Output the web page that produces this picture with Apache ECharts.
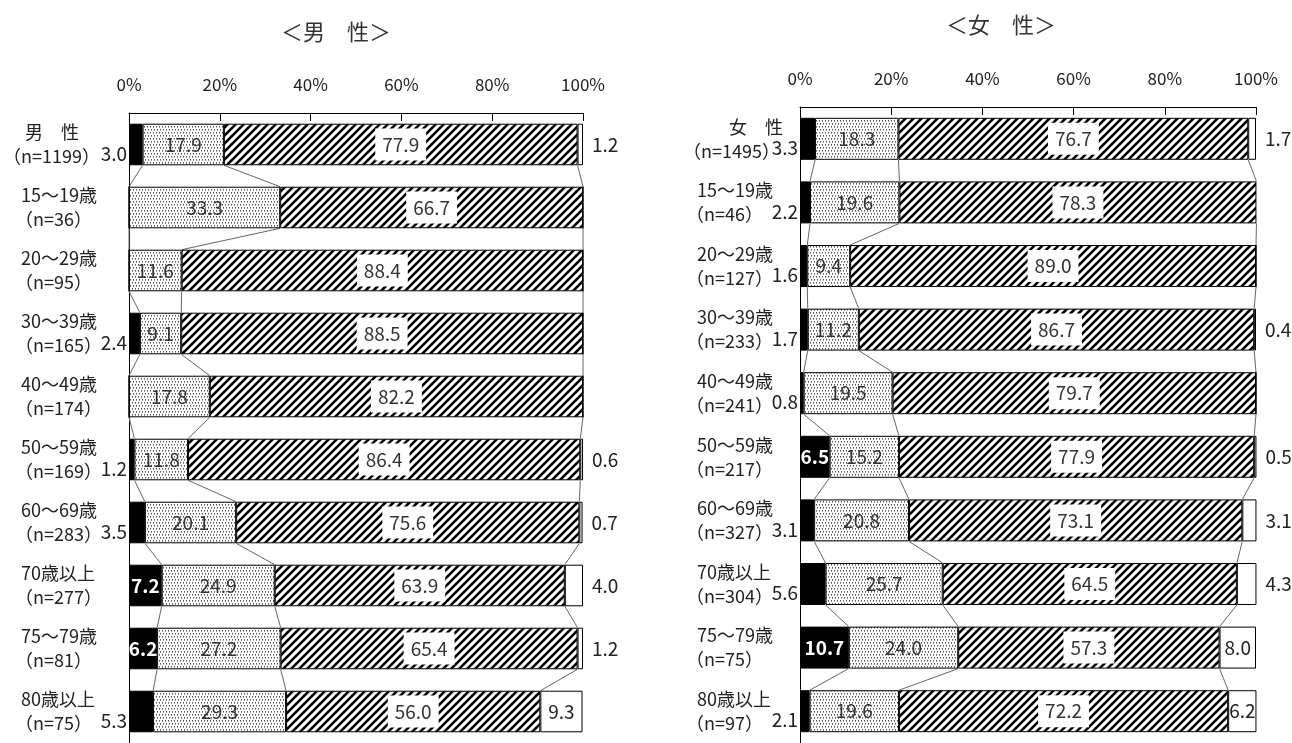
<!DOCTYPE html>
<html><head><meta charset="utf-8">
<script src="https://cdn.jsdelivr.net/npm/echarts@6/dist/echarts.min.js"></script>
<style>html,body{margin:0;padding:0;background:#fff}#c{width:1292px;height:743px}</style>
</head><body><div id="c"></div>
<script>
// ---- data ----
const maleGroups = ['男　性','15～19歳','20～29歳','30～39歳','40～49歳','50～59歳','60～69歳','70歳以上','75～79歳','80歳以上'];
const maleN = [1199,36,95,165,174,169,283,277,81,75];
const maleBlack = [3.0,0,0,2.4,0,1.2,3.5,7.2,6.2,5.3];
const maleDot   = [17.9,33.3,11.6,9.1,17.8,11.8,20.1,24.9,27.2,29.3];
const maleHatch = [77.9,66.7,88.4,88.5,82.2,86.4,75.6,63.9,65.4,56.0];
const maleWhite = [1.2,0,0,0,0,0.6,0.7,4.0,1.2,9.3];

const femaleGroups = ['女　性','15～19歳','20～29歳','30～39歳','40～49歳','50～59歳','60～69歳','70歳以上','75～79歳','80歳以上'];
const femaleN = [1495,46,127,233,241,217,327,304,75,97];
const femaleBlack = [3.3,2.2,1.6,1.7,0.8,6.5,3.1,5.6,10.7,2.1];
const femaleDot   = [18.3,19.6,9.4,11.2,19.5,15.2,20.8,25.7,24.0,19.6];
const femaleHatch = [76.7,78.3,89.0,86.7,79.7,77.9,73.1,64.5,57.3,72.2];
const femaleWhite = [1.7,0,0,0.4,0,0.5,3.1,4.3,8.0,6.2];

const xTicks = [0,20,40,60,80,100];
const titles = ['＜男　性＞','＜女　性＞'];

// ---- patterns ----
function dotPattern(){
  const s=6;const c=document.createElement('canvas');c.width=s;c.height=s;
  const g=c.getContext('2d');g.fillStyle='#fff';g.fillRect(0,0,s,s);
  g.fillStyle='#555';
  g.fillRect(0,0,1,1);g.fillRect(3,0,1,1);g.fillRect(1,3,1,1);g.fillRect(4,3,1,1);
  g.fillStyle='#999';
  g.fillRect(0,1,1,1);g.fillRect(3,1,1,1);g.fillRect(1,4,1,1);g.fillRect(4,4,1,1);
  return c;
}
function hatchPattern(){
  const s=8;const c=document.createElement('canvas');c.width=s;c.height=s;
  const g=c.getContext('2d');g.fillStyle='#fff';g.fillRect(0,0,s,s);
  g.strokeStyle='#000';g.lineWidth=2.6;g.lineCap='square';
  g.beginPath();
  for(const o of [-s,0,s]){g.moveTo(o,s);g.lineTo(o+s,0);}
  g.stroke();
  return c;
}
const DOT={image:dotPattern(),repeat:'repeat'};
const HATCH={image:hatchPattern(),repeat:'repeat'};
const FONT="'Noto Sans CJK JP', 'Noto Sans', sans-serif";
const BAND=0.66;
const LF=19;

function fmt(v){return v.toFixed(1);}

function buildSeries(idx, black, dot, hatch, white){
  const common={type:'bar',stack:'s'+idx,xAxisIndex:idx,yAxisIndex:idx,barCategoryGap:'34%',
    emphasis:{disabled:true},animation:false};
  const sBlack=Object.assign({},common,{name:'black',itemStyle:{color:'#000',borderColor:'#000',borderWidth:1},
    data:black.map(v=>({value:v,label:v>=6?
      {show:true,position:'inside',color:'#fff',fontWeight:'bold',fontSize:LF,fontFamily:FONT,formatter:()=>fmt(v)}:
      {show:v>0,position:'left',distance:2,offset:[0,9],color:'#222',fontSize:LF,fontFamily:FONT,formatter:()=>fmt(v)}}))});
  const sDot=Object.assign({},common,{name:'dot',itemStyle:{color:DOT,borderColor:'#000',borderWidth:1},
    data:dot.map(v=>({value:v,label:{show:v>0,position:'inside',color:'#333',fontSize:LF,fontFamily:FONT,formatter:()=>fmt(v)}}))});
  const sHatch=Object.assign({},common,{name:'hatch',itemStyle:{color:HATCH,borderColor:'#000',borderWidth:1},
    data:hatch.map(v=>({value:v,label:{show:v>0,position:'inside',color:'#333',fontSize:LF,fontFamily:FONT,
      backgroundColor:'#fff',padding:[7,7,6,7],formatter:()=>fmt(v)}}))});
  const sWhite=Object.assign({},common,{name:'white',itemStyle:{color:'#fff',borderColor:'#000',borderWidth:1},
    data:white.map(v=>({value:v,label:v>=6?
      {show:true,position:'inside',color:'#222',fontSize:LF,fontFamily:FONT,formatter:()=>fmt(v)}:
      {show:v>0,position:'right',distance:9,color:'#222',fontSize:LF,fontFamily:FONT,formatter:()=>fmt(v)}}))});
  // connectors between cumulative boundaries of neighbouring bars
  const segs=[black,dot,hatch];
  const conn=[];
  for(let i=0;i<black.length-1;i++){
    let a=0,b=0;
    for(let k=0;k<3;k++){a+=segs[k][i];b+=segs[k][i+1];conn.push([a,i,b]);}
  }
  const sConn={type:'custom',xAxisIndex:idx,yAxisIndex:idx,clip:false,z:1,silent:true,animation:false,
    data:conn,encode:{x:[0,2],y:1},
    renderItem:function(params,api){
      const p1=api.coord([api.value(0),api.value(1)]);
      const p2=api.coord([api.value(2),api.value(1)+1]);
      const h=api.size([0,1])[1]*BAND/2;
      return {type:'line',shape:{x1:p1[0],y1:p1[1]+h,x2:p2[0],y2:p2[1]-h},style:{stroke:'#666',lineWidth:1}};
    }};
  return [sBlack,sDot,sHatch,sWhite,sConn];
}

function yLabel(ns){
  return function(val,i){
    const n='（n='+ns[i]+'）';
    if(i===0) return '{f|'+val+'}\n{n0|'+n+'}';
    return '{a|'+val+'}\n{b|'+n+'}';
  };
}
function richFor(firstPad, aPad, bPad){
  const base={fontSize:18,fontFamily:FONT,color:'#222',lineHeight:24};
  return {
    f:Object.assign({},base,{padding:[0,0,0,firstPad]}),
    n0:Object.assign({},base),
    a:Object.assign({},base,{padding:[0,0,0,aPad]}),
    b:Object.assign({},base,{padding:[0,0,0,bPad]})
  };
}

const xAxisCommon={type:'value',position:'top',min:0,max:100,interval:20,
  axisLine:{show:true,lineStyle:{color:'#000',width:1}},
  axisTick:{show:true,inside:true,length:8,lineStyle:{color:'#000'}},
  splitLine:{show:false},
  axisLabel:{formatter:'{value}%',fontSize:17,fontFamily:FONT,color:'#222',margin:20}};

const option={
  backgroundColor:'#fff',
  animation:false,
  graphic:[
    {type:'text',x:336,y:32,style:{text:titles[0],font:'22px '+FONT,fill:'#333',align:'center',verticalAlign:'middle'}},
    {type:'text',x:1001,y:25,style:{text:titles[1],font:'22px '+FONT,fill:'#333',align:'center',verticalAlign:'middle'}}
  ],
  grid:[
    {left:129,width:454,top:113,height:641},
    {left:800,width:456,top:107,height:638}
  ],
  xAxis:[Object.assign({},xAxisCommon,{gridIndex:0}),Object.assign({},xAxisCommon,{gridIndex:1})],
  yAxis:[
    {type:'category',gridIndex:0,inverse:true,data:maleGroups,
      axisLine:{lineStyle:{color:'#000'}},axisTick:{length:5,lineStyle:{color:'#000'}},
      axisLabel:{align:'left',margin:126,formatter:yLabel(maleN),rich:richFor(22,18,12)}},
    {type:'category',gridIndex:1,inverse:true,data:femaleGroups,
      axisLine:{lineStyle:{color:'#000'}},axisTick:{length:5,lineStyle:{color:'#000'}},
      axisLabel:{align:'left',margin:117,formatter:yLabel(femaleN),rich:richFor(46,14,3)}}
  ],
  series:[].concat(
    buildSeries(0,maleBlack,maleDot,maleHatch,maleWhite),
    buildSeries(1,femaleBlack,femaleDot,femaleHatch,femaleWhite))
};
const chart=echarts.init(document.getElementById('c'),null,{renderer:'canvas'});
chart.setOption(option);
</script></body></html>
